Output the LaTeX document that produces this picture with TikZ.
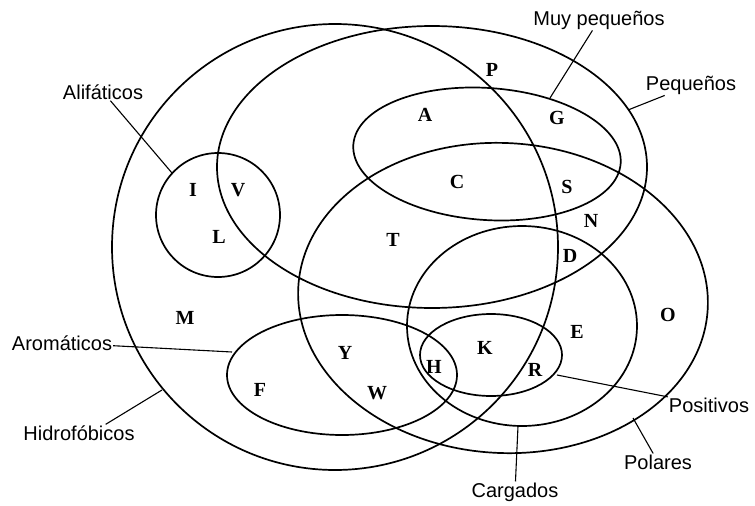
\documentclass[tikz,border=0pt]{standalone}
\usepackage{fontspec}
\setmainfont{Liberation Serif}
\setsansfont{Liberation Sans}

\begin{document}
\begin{tikzpicture}[
  x=1pt, y=-1pt,
  every node/.style={inner sep=1pt},
  set/.style={line width=1.7pt},
  lead/.style={line width=1.1pt},
  res/.style={font=\fontsize{20}{22}\selectfont\bfseries},
  lab/.style={font=\sffamily\fontsize{20}{22}\selectfont},
]
\useasboundingbox (0,0) rectangle (755,506);

%% ── sets ─────────────────────────────────────────────────────────────────
\draw[set] (335,247) circle [radius=223];                                  % Hidrofobicos
\draw[set] (218,215) circle [radius=62];                                   % Alifaticos
\draw[set] (432,167) ellipse [x radius=215, y radius=141];                 % Pequenos
\draw[set, rotate around={-4:(487,154)}] (487,154) ellipse [x radius=134, y radius=66];   % Muy pequenos
\draw[set, rotate around={-3:(503,298)}] (503,298) ellipse [x radius=205, y radius=155];  % Polares
\draw[set] (522,326) ellipse [x radius=115, y radius=100];                 % Cargados
\draw[set] (491,355) ellipse [x radius=71, y radius=41];                   % Positivos
\draw[set] (342,375) ellipse [x radius=115, y radius=60];                  % Aromaticos

%% ── amino acids ──────────────────────────────────────────────────────────
\foreach \aa/\x/\y in {P/492/70, A/425/115, G/557/118, C/457/182, S/567/187,
                       N/591/221, T/393/240, D/570/256, I/193/190, V/238/190,
                       L/219/237, M/185/318, E/577/332, O/668/315, K/485/348,
                       R/535/370, H/434/367, Y/345/353, W/377/393, F/260/390} {
  \node[res] (aa\aa) at (\x,\y) {\aa};
}

%% ── labels and leader lines ──────────────────────────────────────────────
\node[lab] (alilab) at (103,92)  {Alifáticos};
\node[lab] (muylab) at (599,20)  {Muy pequeños};
\node[lab] (peqlab) at (691,85)  {Pequeños};
\node[lab] (arolab) at (62,343)  {Aromáticos};
\node[lab] (hidlab) at (79,433)  {Hidrofóbicos};
\node[lab] (poslab) at (709,405) {Positivos};
\node[lab] (pollab) at (658,462) {Polares};
\node[lab] (carlab) at (515,492) {Cargados};

\coordinate (aliT) at (172,173);
\coordinate (muyT) at (550,98);
\coordinate (peqT) at (628,110);
\coordinate (aroT) at (232,352);
\coordinate (hidT) at (162,390);
\coordinate (posT) at (557,375);
\coordinate (polT) at (633,418);
\coordinate (carT) at (518,426);

\draw[lead] (alilab) -- (aliT);
\draw[lead] (muylab) -- (muyT);
\draw[lead] (peqlab) -- (peqT);
\draw[lead] (arolab) -- (aroT);
\draw[lead] (hidlab.18) -- (hidT);
\draw[lead] (poslab) -- (posT);
\draw[lead] (pollab) -- (polT);
\draw[lead] (carlab) -- (carT);

\end{tikzpicture}
\end{document}
